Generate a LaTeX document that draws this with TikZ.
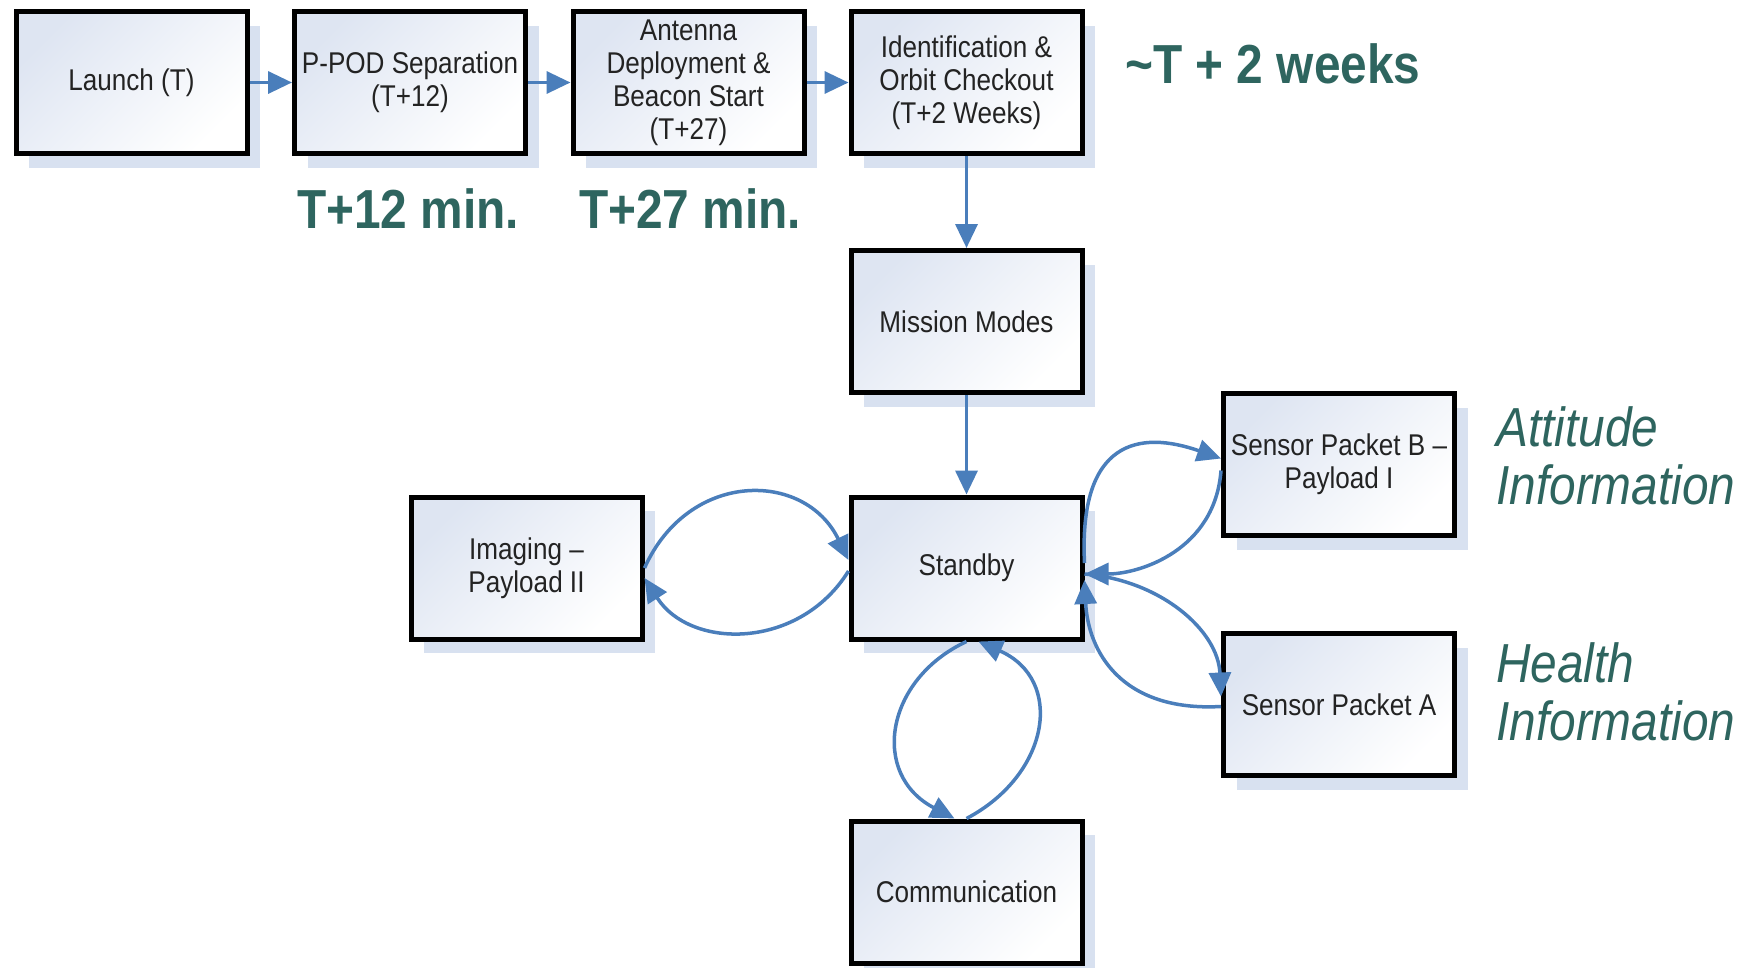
\documentclass[tikz,border=0pt]{standalone}
\usepackage{fontspec}
\setmainfont{Liberation Sans}[FakeStretch=0.87]
\usetikzlibrary{arrows.meta,shadows,calc}
\definecolor{labelteal}{RGB}{46,101,95}
\definecolor{arrowblue}{RGB}{74,126,187}
\definecolor{boxtop}{RGB}{222,229,242}
\definecolor{shadowc}{RGB}{216,225,240}
\definecolor{boxtext}{RGB}{35,35,35}
\begin{document}
\begin{tikzpicture}[x=1pt,y=-1pt,
 box/.style={draw=black, line width=5pt, minimum width=231pt, minimum height=142pt, inner sep=2pt, align=center,
   font=\fontsize{30}{33}\selectfont, text=boxtext, top color=boxtop, bottom color=white, shading angle=45,
   drop shadow={shadow xshift=13pt, shadow yshift=-14pt, fill=shadowc, opacity=1}},
 conn/.style={draw=arrowblue, line width=3.5pt, -{Triangle[length=24pt,width=22pt]}},
 big/.style={text=labelteal, font=\fontsize{55}{58}\selectfont\bfseries, inner sep=0pt, anchor=base west},
 side/.style={text=labelteal, font=\fontsize{55}{58}\selectfont\itshape, inner sep=0pt, align=left, anchor=base west}]
\useasboundingbox (0,0) rectangle (1747,967);

\node[box] (launch) at (131.5,82.5) {Launch (T)};
\node[box] (ppod) at (410,82.5) {P-POD Separation\\(T+12)};
\node[box] (ant) at (688.5,82.5) {Antenna\\Deployment \&\\Beacon Start\\(T+27)};
\node[box] (ident) at (966.5,82.5) {Identification \&\\Orbit Checkout\\(T+2 Weeks)};
\node[box] (mission) at (966.5,321.5) {Mission Modes};
\node[box] (stb) at (966.5,568) {Standby};
\node[box] (img) at (526.5,568) {Imaging –\\Payload II};
\node[box] (sb) at (1339,464.5) {Sensor Packet B –\\Payload I};
\node[box] (sa) at (1339,704.5) {Sensor Packet A};
\node[box] (comm) at (966.5,892) {Communication};

\draw[conn] (launch) -- (ppod);
\draw[conn] (ppod) -- (ant);
\draw[conn] (ant) -- (ident);
\draw[conn] (ident) -- (mission);
\draw[conn] (mission) -- (stb);

\draw[conn] (img.east) .. controls +(44,-98) and +(-44,-90) .. ($(stb.west)+(0,-8)$);
\draw[conn] ($(stb.west)+(0,3)$) .. controls +(-49,79) and +(46,72) .. ($(img.east)+(0,10)$);

\draw[conn] (stb.south) .. controls +(-81.5,38) and +(-84.5,-44) .. ($(comm.north)+(-12,0)$);
\draw[conn] (comm.north) .. controls +(83.5,-44) and +(86.5,38) .. ($(stb.south)+(12,0)$);

\draw[conn] ($(stb.east)+(0,-5)$) .. controls +(-6,-123) and +(-81.5,-28.5) .. ($(sb.west)+(0,-6)$);
\draw[conn] ($(sb.west)+(0,6)$) .. controls +(-6,79.5) and +(55.5,0) .. ($(stb.east)+(0,6)$);
\draw[conn] ($(stb.east)+(0,6)$) .. controls +(75.5,6) and +(-3,-66.5) .. ($(sa.west)+(0,-8)$);
\draw[conn] ($(sa.west)+(0,2)$) .. controls +(-101,5.5) and +(3.5,70) .. ($(stb.east)+(0,12)$);

\node[big] (l12) at (297,228) {T+12 min.};
\node[big] (l27) at (579,228) {T+27 min.};
\node[big] (l2w) at (1125,83) {\textasciitilde T + 2 weeks};
\node[side] (att) at (1496,504) {Attitude\\Information};
\node[side] (hlth) at (1496,740) {Health\\Information};
\end{tikzpicture}
\end{document}
